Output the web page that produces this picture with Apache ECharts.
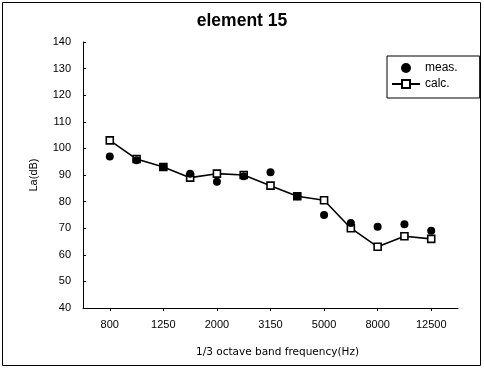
<!DOCTYPE html>
<html>
<head>
<meta charset="utf-8">
<script src="https://cdn.jsdelivr.net/npm/echarts@6/dist/echarts.min.js"></script>
<style>html,body{margin:0;padding:0;background:#fff}#c{width:484px;height:369px}</style>
</head>
<body>
<div id="c"></div>
<script>
const categories = ['', '800', '1000', '1250', '1600', '2000', '2500', '3150', '4000', '5000', '6300', '8000', '10000', '12500', ''];
const meas = [null, 97, 95.5, 93, 90.5, 87.5, 89.5, 91, 82, 75, 72, 70.5, 71.5, 69, null];
const calc = [null, 103, 96, 93, 89, 90.5, 90, 86, 82, 80.5, 70, 63, 67, 66, null];
const shownLabels = ['800', '1250', '2000', '3150', '5000', '8000', '12500'];
const yTicks = { min: 40, max: 140, step: 10 };

const FONT = "'Liberation Sans Narrow', 'Liberation Sans', Arial, sans-serif";
const chart = echarts.init(document.getElementById('c'), null, { renderer: 'canvas' });
chart.setOption({
  backgroundColor: '#fff',
  animation: false,
  title: {
    text: 'element 15', left: 'center', top: 7,
    textStyle: { fontFamily: "'Liberation Sans', Arial, sans-serif", fontWeight: 'bold', fontSize: 17.5, color: '#000' }
  },
  graphic: [{
    type: 'rect', shape: { x: 2.5, y: 2.5, width: 478, height: 363 },
    style: { fill: 'none', stroke: '#000', lineWidth: 1 }, silent: true
  }],
  legend: {
    orient: 'vertical', left: 387, top: 56,
    width: 84,
    padding: [6, 22, 8, 4],
    itemGap: 4,
    itemWidth: 28, itemHeight: 10,
    borderColor: '#000', borderWidth: 1,
    textStyle: { fontFamily: FONT, fontSize: 12, color: '#000' },
    data: ['meas.', 'calc.']
  },
  grid: { left: 83, right: 26, top: 42, bottom: 61 },
  xAxis: {
    type: 'category', data: categories, boundaryGap: false,
    axisLine: { lineStyle: { color: '#000', width: 1 } },
    axisTick: { show: true, length: 3, lineStyle: { color: '#000' },
      interval: (i, v) => shownLabels.includes(v) },
    axisLabel: { interval: (i, v) => shownLabels.includes(v), margin: 11,
      fontFamily: FONT, fontSize: 11, color: '#000' },
    name: '1/3 octave band frequency(Hz)', nameLocation: 'middle', nameGap: 39,
    nameTextStyle: { fontFamily: "'DejaVu Sans', sans-serif", fontSize: 10.5, color: '#000', padding: [0, 0, 0, 14] },
    splitLine: { show: false }
  },
  yAxis: {
    type: 'value', min: yTicks.min, max: yTicks.max, interval: yTicks.step,
    axisLine: { show: true, lineStyle: { color: '#000', width: 1 } },
    axisTick: { show: true, inside: true, length: 3, lineStyle: { color: '#000' } },
    axisLabel: { margin: 12, fontFamily: FONT, fontSize: 11, color: '#000' },
    splitLine: { show: false },
    name: 'La(dB)', nameLocation: 'middle', nameGap: 44, nameRotate: 90,
    nameTextStyle: { fontFamily: FONT, fontSize: 11, color: '#000' }
  },
  series: [
    {
      name: 'meas.', type: 'scatter', data: meas,
      symbol: 'circle', symbolSize: 8,
      itemStyle: { color: '#000', opacity: 1 }, z: 3
    },
    {
      name: 'calc.', type: 'line', data: calc,
      symbol: 'rect', symbolSize: 7, showAllSymbol: true,
      lineStyle: { color: '#000', width: 1.6 },
      itemStyle: { color: '#fff', borderColor: '#000', borderWidth: 1.6 }, z: 2
    }
  ]
});
</script>
</body>
</html>
